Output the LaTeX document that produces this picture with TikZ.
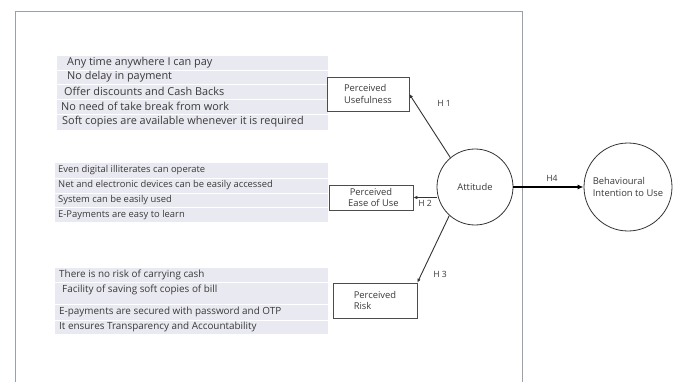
\documentclass[tikz,border=0pt]{standalone}
\usepackage{fontspec}
\setmainfont{Open Sans}
\usetikzlibrary{arrows.meta}
\definecolor{band}{HTML}{E9E9F1}
\definecolor{txt}{HTML}{3A3A3A}
\definecolor{frame}{HTML}{9AA0A8}
\begin{document}
\begin{tikzpicture}[x=1pt,y=-1pt,
  item/.style={anchor=west,inner sep=0pt,font=\fontsize{9.6}{10}\selectfont,text=txt},
  itemA/.style={item,font=\fontsize{10.9}{11}\selectfont},
  itemB/.style={item,font=\fontsize{9.4}{10}\selectfont},
  itemC/.style={item,font=\fontsize{9.9}{10}\selectfont},
  cbox/.style={draw=black!70,line width=0.6pt,fill=white,inner sep=0pt,font=\fontsize{9.4}{11.5}\selectfont,text=txt},
  circ/.style={draw=black!80,line width=0.8pt,circle,inner sep=0pt,font=\fontsize{9.4}{11.5}\selectfont,text=txt},
  link/.style={draw=black!80,line width=0.9pt,-{Latex[length=4pt,width=3.5pt]}},
  hlab/.style={font=\fontsize{8.6}{9}\selectfont,text=txt,inner sep=0pt}]
\useasboundingbox (0,0) rectangle (679,382);
\fill[white] (0,0) rectangle (679,382);
% frame
\draw[frame,line width=1pt] (15,382) -- (15,12) -- (522,12) -- (522,382);
% bands
\fill[band] (57,56) rectangle (328,130);
\fill[band] (55,163) rectangle (328,222);
\fill[band] (55,268) rectangle (328,334);
\foreach \y in {70,84,99,114} {\draw[white,line width=0.8pt] (57,\y) -- (328,\y);}
\foreach \y in {178,193,207} {\draw[white,line width=0.8pt] (55,\y) -- (328,\y);}
\foreach \y in {282,304,320} {\draw[white,line width=0.8pt] (55,\y) -- (328,\y);}
% group 1
\node[itemA] (a1) at (67,63) {Any time anywhere I can pay};
\node[itemA] (a2) at (67,77) {No delay in payment};
\node[itemA] (a3) at (64,91.5) {Offer discounts and Cash Backs};
\node[itemA] (a4) at (61,106.5) {No need of take break from work};
\node[itemA] (a5) at (62,122) {Soft copies are available whenever it is required};
% group 2
\node[itemB] (b1) at (58,170) {Even digital illiterates can operate};
\node[itemB] (b2) at (58,185) {Net and electronic devices can be easily accessed};
\node[itemB] (b3) at (58,200) {System can be easily used};
\node[itemB] (b4) at (58,215) {E-Payments are easy to learn};
% group 3
\node[itemC] (c1) at (59,275) {There is no risk of carrying cash};
\node[itemC] (c2) at (62,290) {Facility of saving soft copies of bill};
\node[itemC] (c3) at (59,312) {E-payments are secured with password and OTP};
\node[itemC] (c4) at (59,327) {It ensures Transparency and Accountability};
% construct boxes
\node[cbox,minimum width=82pt,minimum height=34pt,align=left] (pu) at (368,94) {Perceived\\Usefulness};
\node[cbox,minimum width=84pt,minimum height=25pt,align=center] (pe) at (371,197.5) {Perceived\\\ \ Ease of Use};
\node[cbox,minimum width=84pt,minimum height=35pt,align=left] (pr) at (375,300.5) {Perceived\\Risk};
% circles
\node[circ,minimum size=76pt] (att) at (475,187) {Attitude};
\node[circ,minimum size=88pt,align=left] (bi) at (628,187) {Behavioural\\Intention to Use};
% connectors
\draw[link] (att.130) -- (pu.east);
\draw[link] (att.west |- pe.east) -- (pe.east);
\draw[link] (att.228) -- (pr.north east);
\draw[draw=black,line width=1.5pt,-{Latex[length=6pt,width=5pt]}] (att.east) -- (bi.west);
% labels
\node[hlab] (h1) at (444,103) {H 1};
\node[hlab] (h2) at (425,203) {H 2};
\node[hlab] (h3) at (440,274) {H 3};
\node[hlab] (h4) at (552,178) {H4};
\end{tikzpicture}
\end{document}
